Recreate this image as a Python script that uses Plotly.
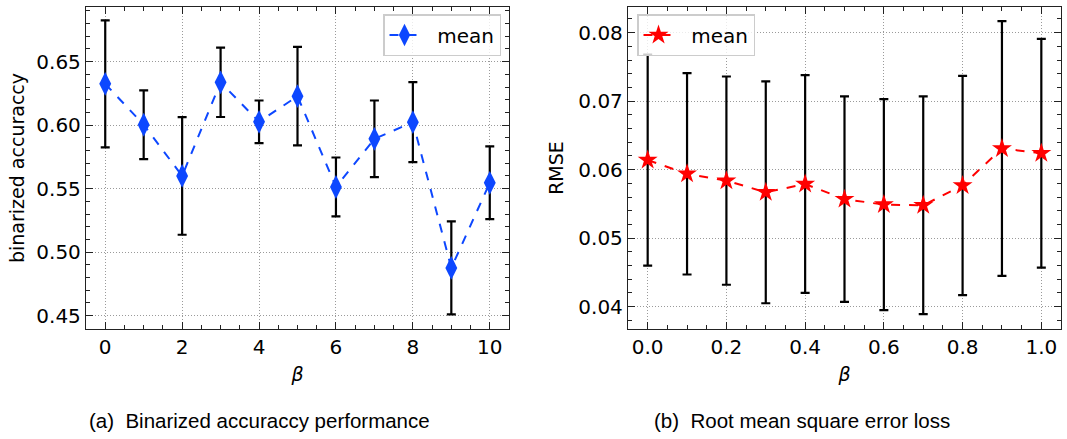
import plotly.graph_objects as go

# Left panel: binarized accuracy vs beta
beta_a = [0, 1, 2, 3, 4, 5, 6, 7, 8, 9, 10]
acc_mean = [0.6325, 0.6003, 0.5600, 0.6337, 0.6026, 0.6228, 0.5513, 0.5892, 0.6023, 0.4876, 0.5546]
acc_err = [0.0500, 0.0270, 0.0463, 0.0273, 0.0168, 0.0388, 0.0232, 0.0302, 0.0315, 0.0366, 0.0286]

# Right panel: RMSE vs beta
beta_b = [0.0, 0.1, 0.2, 0.3, 0.4, 0.5, 0.6, 0.7, 0.8, 0.9, 1.0]
rmse_mean = [0.0614, 0.0594, 0.0584, 0.0567, 0.0579, 0.0557, 0.0549, 0.0548, 0.0577, 0.0631, 0.0624]
rmse_err = [0.0154, 0.0147, 0.0152, 0.0162, 0.0159, 0.0150, 0.0154, 0.0159, 0.0160, 0.0186, 0.0167]

captions = ["(a)  Binarized accuraccy performance", "(b)  Root mean square error loss"]

FONT = "DejaVu Sans"
BLUE = "#0d47ff"
RED = "#ff0000"
LEGEND_NAME = "\u00a0\u00a0mean"

fig = go.Figure()

fig.add_trace(go.Scatter(
    x=beta_a, y=acc_mean, name=LEGEND_NAME, xaxis="x", yaxis="y", legend="legend",
    mode="lines+markers",
    line=dict(color=BLUE, width=2, dash="dash"),
    marker=dict(symbol="diamond-tall", size=17, color=BLUE),
    error_y=dict(type="data", array=acc_err, color="black", thickness=2.2, width=4.5),
))
fig.add_trace(go.Scatter(
    x=beta_b, y=rmse_mean, name=LEGEND_NAME, xaxis="x2", yaxis="y2", legend="legend2",
    mode="lines+markers",
    line=dict(color=RED, width=2, dash="dash"),
    marker=dict(symbol="star", size=15, color=RED),
    error_y=dict(type="data", array=rmse_err, color="black", thickness=2.2, width=4.5),
))

W, H = 1067, 439
y_dom = [1 - 329 / H, 1 - 7 / H]

common = dict(
    showline=True, linecolor="#222222", linewidth=1.3, mirror="ticks",
    ticks="inside", ticklen=7, tickwidth=1.2, tickcolor="#222222",
    showgrid=True, gridcolor="#9a9a9a", griddash="1px,2px", gridwidth=1,
    zeroline=False,
    tickfont=dict(family=FONT, size=20, color="black"),
    title_font=dict(family=FONT, size=19, color="black"),
)

def minor(dt):
    return dict(ticks="inside", ticklen=4, tickwidth=1.1, tickcolor="#222222",
                dtick=dt, showgrid=False)

legend_style = dict(
    yanchor="top", y=1 - 14 / H,
    bgcolor="rgba(255,255,255,0.8)", bordercolor="#cccccc", borderwidth=1.5,
    font=dict(family=FONT, size=20),
)

fig.update_layout(
    width=W, height=H,
    margin=dict(l=0, r=0, t=0, b=0),
    paper_bgcolor="white", plot_bgcolor="white",
    font=dict(family=FONT, size=20, color="black"),
    xaxis=dict(common, domain=[86 / W, 509 / W], anchor="y",
               range=[-0.5, 10.5], tick0=0, dtick=2, minor=minor(0.5),
               title=dict(text="<i>β</i>", standoff=9)),
    yaxis=dict(common, domain=y_dom, anchor="x",
               range=[0.4395, 0.693], tick0=0.45, dtick=0.05, tickformat=".2f",
               minor=minor(0.01),
               title=dict(text="binarized accuraccy", standoff=6)),
    xaxis2=dict(common, domain=[628 / W, 1061 / W], anchor="y2",
                range=[-0.05, 1.05], tick0=0, dtick=0.2, tickformat=".1f",
                minor=minor(0.05),
                title=dict(text="<i>β</i>", standoff=9)),
    yaxis2=dict(common, domain=y_dom, anchor="x2",
                range=[0.03674, 0.08375], tick0=0.04, dtick=0.01, tickformat=".2f",
                minor=minor(0.002),
                title=dict(text="RMSE", standoff=9)),
    legend=dict(legend_style, x=501 / W, xanchor="right"),
    legend2=dict(legend_style, x=637 / W, xanchor="left"),
    showlegend=True,
)

# Sub-figure captions below each panel
for cx, text in zip([259, 802], captions):
    fig.add_annotation(
        x=cx / W, y=1 - 420 / H, xref="paper", yref="paper",
        text=text, showarrow=False, xanchor="center", yanchor="middle",
        font=dict(family="Liberation Sans", size=20.5, color="black"),
    )

fig.write_html("out.html")
